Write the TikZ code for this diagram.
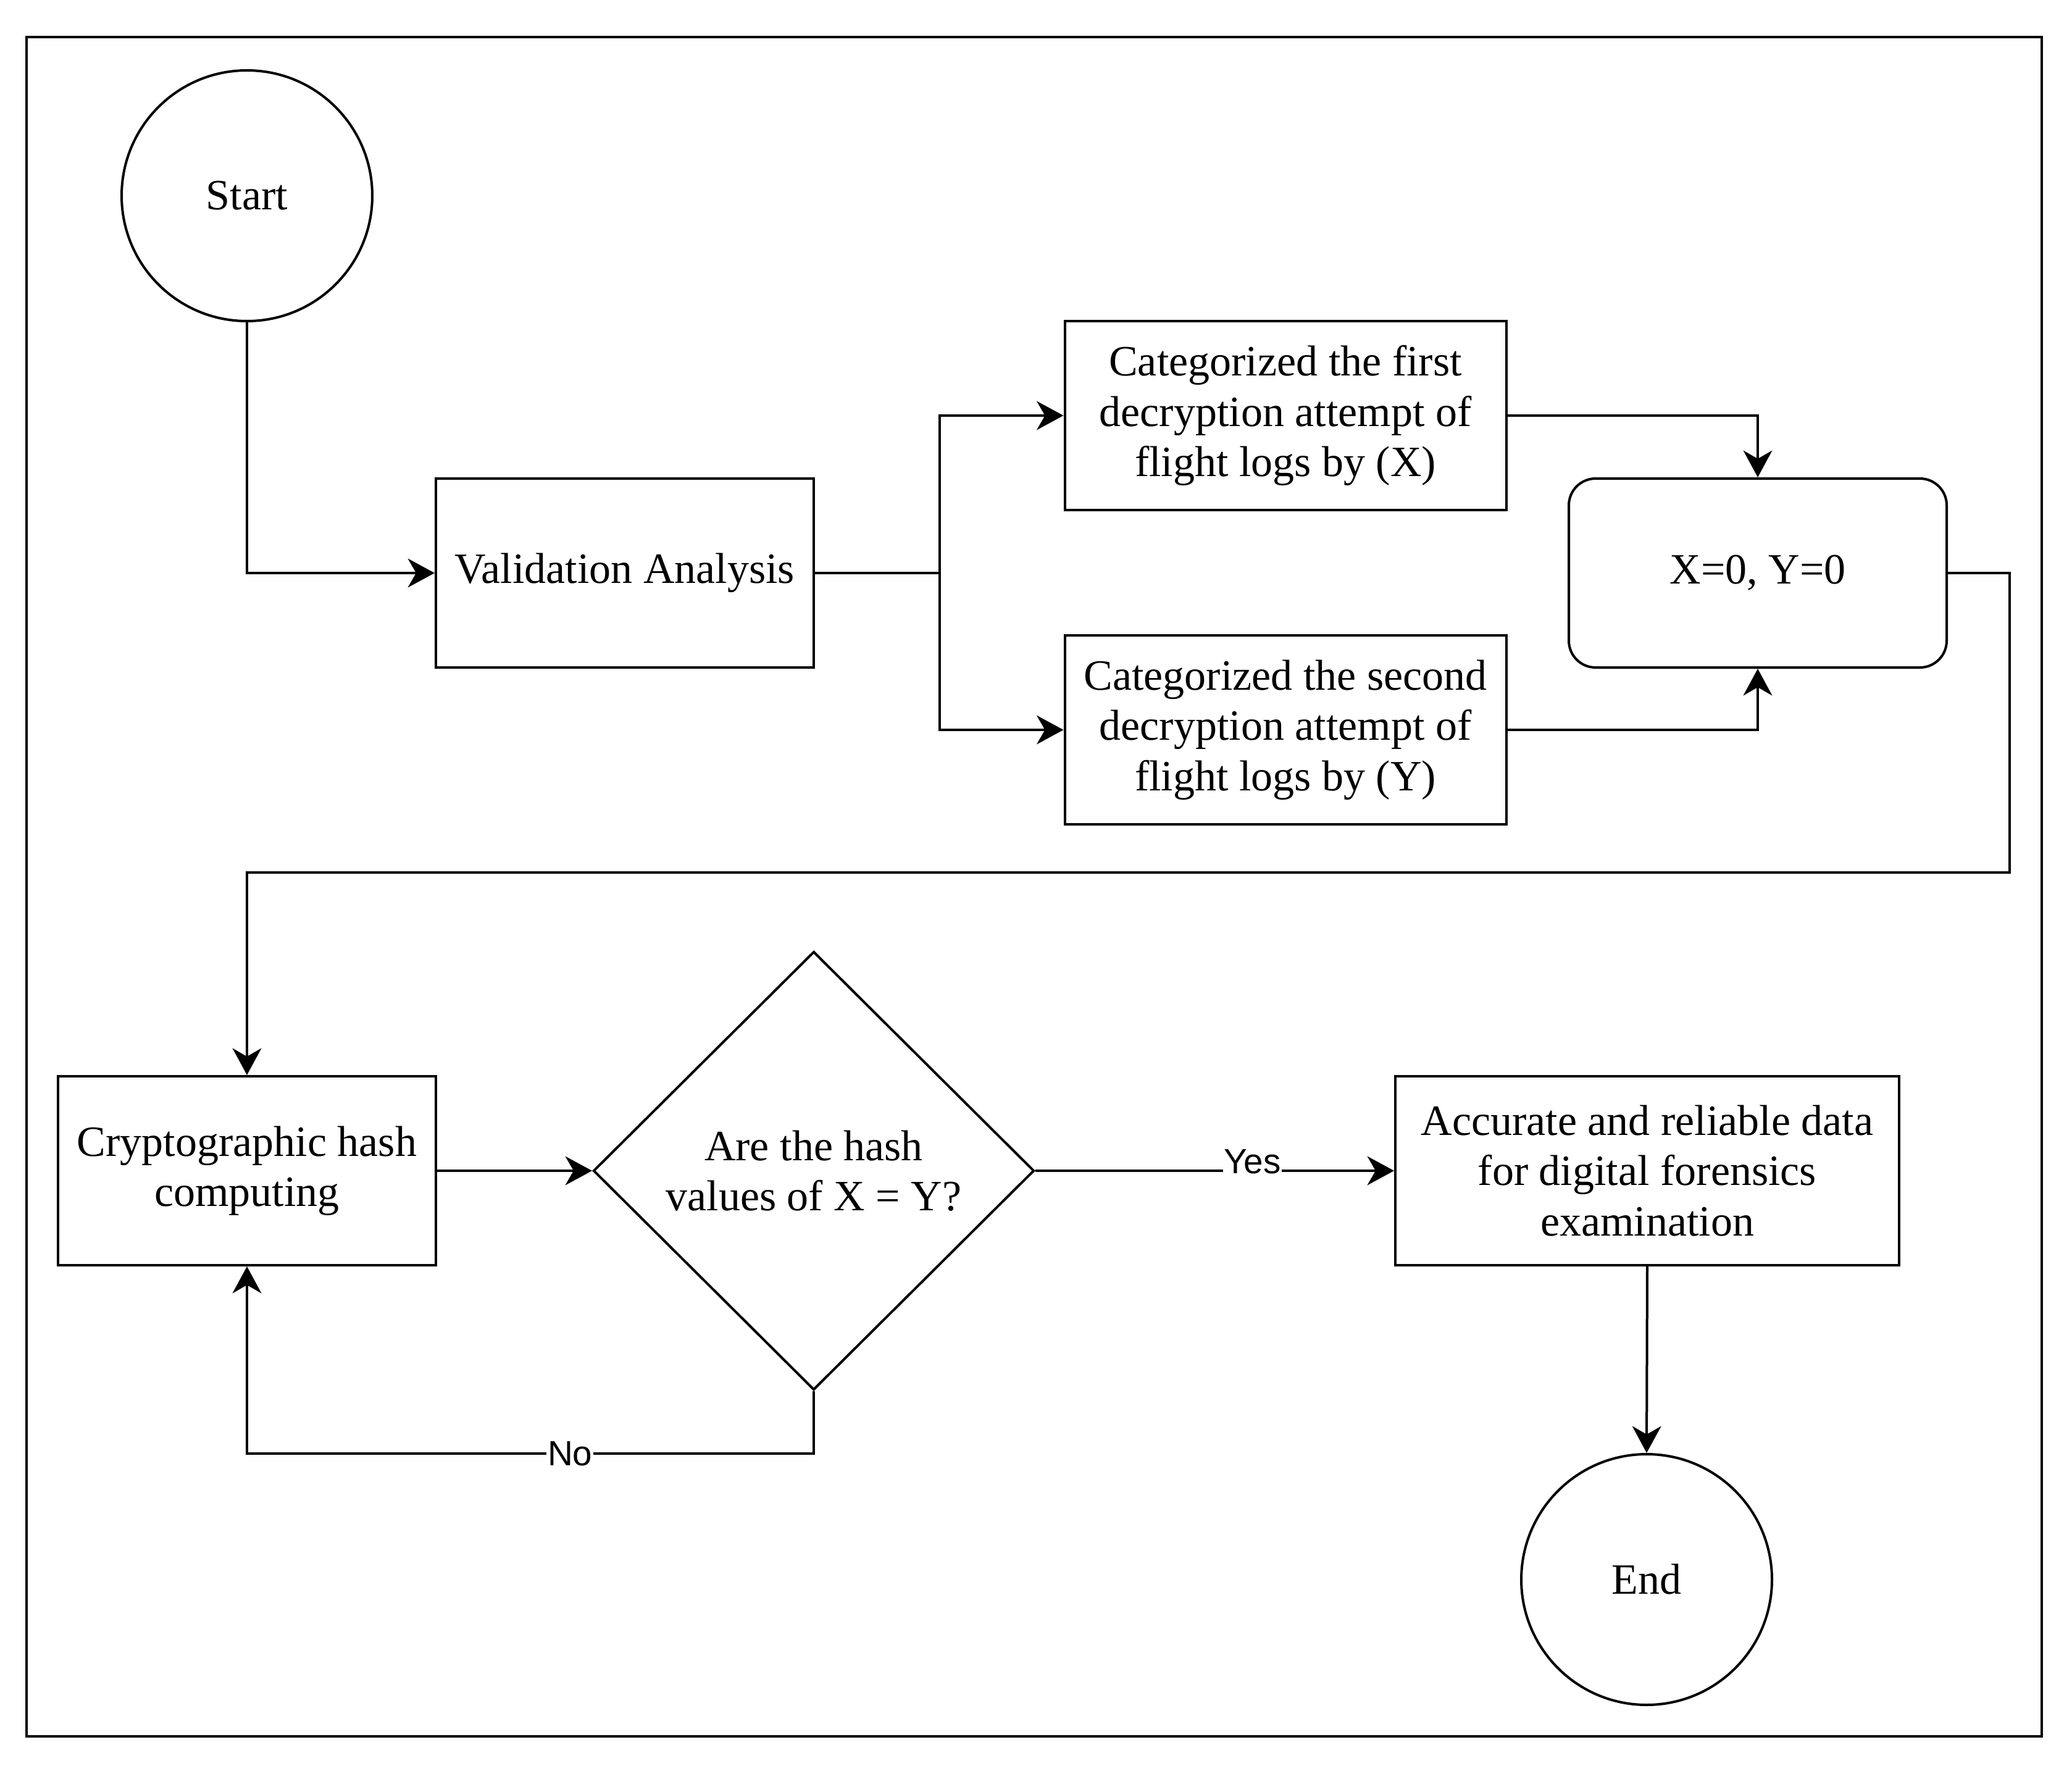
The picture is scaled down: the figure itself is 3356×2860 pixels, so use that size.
\documentclass[tikz,border=0pt]{standalone}
\usepackage{fontspec}
\setmainfont{Liberation Serif}
\newfontfamily\lblfont{Liberation Sans}
\usetikzlibrary{arrows.meta,shapes.geometric}
\begin{document}
\begin{tikzpicture}[x=0.3pt,y=-0.3pt,line width=1.2pt,
  txt/.style={font=\fontsize{21}{24.4}\selectfont},
  box/.style={draw, rectangle, align=center, txt, inner sep=0pt, minimum height=91.8pt},
  rbox/.style={box, rounded corners=13pt},
  term/.style={draw, circle, txt, inner sep=0pt, minimum size=121.8pt},
  dec/.style={draw, diamond, align=center, txt, inner sep=0pt, minimum width=214.2pt, minimum height=213pt},
  arr/.style={-{Stealth[length=13pt,width=14pt,inset=4pt]}},
  lbl/.style={fill=white, inner sep=0.5pt, font=\lblfont\fontsize{17}{19}\selectfont}
]
\fill[white] (0,0) rectangle (3356,2860);
\useasboundingbox (0,0) rectangle (3356,2860);
\draw (43,60) rectangle (3307,2812);

\node[term] (start) at (400,317) {Start};
\node[box, minimum width=183.6pt] (val) at (1012,928) {Validation Analysis};
\node[box, minimum width=214.5pt] (c1) at (2082,673) {Categorized the first\\decryption attempt of\\flight logs by (X)};
\node[box, minimum width=214.5pt] (c2) at (2082,1182) {Categorized the second\\decryption attempt of\\flight logs by (Y)};
\node[rbox, minimum width=183.6pt] (xy) at (2847,928) {X=0, Y=0};
\node[box, minimum width=183.6pt] (cr) at (400,1896) {Cryptographic hash\\computing};
\node[dec] (dia) at (1318,1896) {Are the hash\\values of X = Y?};
\node[box, minimum width=244.8pt] (acc) at (2668,1896) {Accurate and reliable data\\for digital forensics\\examination};
\node[term] (end) at (2667,2558) {End};

\coordinate (j) at (1522,928);
\coordinate (ra) at (3255,928);
\coordinate (rb) at (3255,1413);
\coordinate (rc) at (400,1413);
\coordinate (nb) at (1318,2354);
\coordinate (nc) at (400,2354);

\draw[arr] (start.south) |- (val.west);
\draw (val.east) -- (j);
\draw[arr] (j) |- (c1.west);
\draw[arr] (j) |- (c2.west);
\draw[arr] (c1.east) -| (xy.north);
\draw[arr] (c2.east) -| (xy.south);
\draw[arr] (xy.east) -- (ra) -- (rb) -- (rc) -- (cr.north);
\draw[arr] (cr.east) -- (dia.west);
\draw[arr] (dia.east) -- node[lbl, pos=0.605, yshift=4.5pt] (yes) {Yes} (acc.west);
\draw[arr] (dia.south) -- (nb) -- node[lbl, pos=0.43] (no) {No} (nc) -- (cr.south);
\draw[arr] (acc.south) -- (end.north);
\end{tikzpicture}
\end{document}
